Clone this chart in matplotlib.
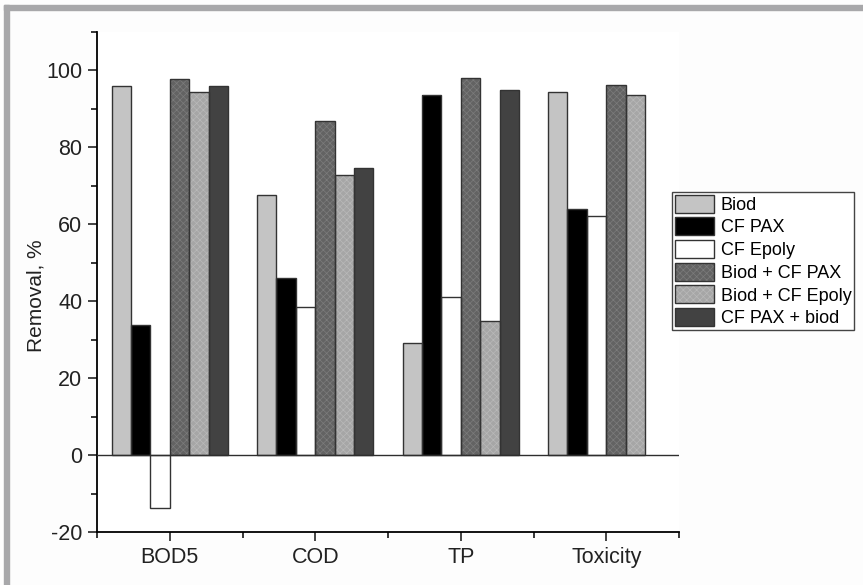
import numpy as np
import matplotlib
matplotlib.use("Agg")
import matplotlib.pyplot as plt
from matplotlib.patches import Rectangle
from matplotlib.ticker import MultipleLocator, FixedLocator

plt.rcParams['font.family'] = ['Liberation Sans', 'DejaVu Sans']
plt.rcParams['hatch.linewidth'] = 0.5
plt.rcParams['axes.unicode_minus'] = False

categories = ["BOD5", "COD", "TP", "Toxicity"]
series = ["Biod", "CF PAX", "CF Epoly", "Biod + CF PAX", "Biod + CF Epoly", "CF PAX + biod"]

biod = [96.0, 67.5, 29.1, 94.4]
cf_pax = [33.7, 46.0, 93.5, 64.0]
cf_epoly = [-13.8, 38.5, 41.2, 62.2]
biod_cf_pax = [97.7, 86.8, 98.1, 96.2]
biod_cf_epoly = [94.4, 72.7, 34.9, 93.5]
cf_pax_biod = [95.9, 74.6, 94.8, np.nan]

values = [biod, cf_pax, cf_epoly, biod_cf_pax, biod_cf_epoly, cf_pax_biod]
faces = ["#c4c4c4", "#000000", "#ffffff", "#636363", "#a6a6a6", "#424242"]
hatches = [None, None, None, "xxxxx", "xxxxx", None]
hatch_cols = ["#c4c4c4", "#000000", "#ffffff", "#7c7c7c", "#b9b9b9", "#424242"]

fig = plt.figure(figsize=(8.63, 5.85), dpi=100)
fig.patch.set_facecolor("#fdfdfd")

# grey frame of the original figure
fig.patches.append(Rectangle((4 / 863, 0), 5 / 863, 1 - 5 / 585, transform=fig.transFigure,
                             color="#a8a8aa", zorder=0))
fig.patches.append(Rectangle((4 / 863, 1 - 10 / 585), 1, 5 / 585, transform=fig.transFigure,
                             color="#a8a8aa", zorder=0))

ax = fig.add_axes([97 / 863, 53 / 585, 582 / 863, 500 / 585])
ax.set_facecolor("white")

x = np.arange(1, len(categories) + 1)
w = 0.8 / len(series)
handles = []
for i, (vals, fc, h, hc) in enumerate(zip(values, faces, hatches, hatch_cols)):
    pos = x + (i - 2.5) * w
    b1 = ax.bar(pos, vals, w, color=fc, edgecolor=hc, hatch=h, linewidth=0, zorder=2)
    b2 = ax.bar(pos, vals, w, fill=False, edgecolor="#333333", linewidth=1.0, zorder=3)
    handles.append((b1, b2))

ax.set_xlim(0.5, 4.5)
ax.set_ylim(-20, 110)
ax.set_xticks(x)
ax.set_xticklabels(categories)
ax.xaxis.set_minor_locator(FixedLocator([0.5, 1.5, 2.5, 3.5, 4.5]))
ax.yaxis.set_major_locator(FixedLocator([-20, 0, 20, 40, 60, 80, 100]))
ax.yaxis.set_minor_locator(MultipleLocator(10))
ax.axhline(0, color="#2e2e2e", lw=1.0, zorder=4)

for s in ["top", "right"]:
    ax.spines[s].set_visible(False)
for s in ["left", "bottom"]:
    ax.spines[s].set_linewidth(1.3)
ax.tick_params(which="major", length=6.5, width=1.1, labelsize=15.5, colors="#111111",
               labelcolor="#222222", pad=4)
ax.tick_params(which="minor", length=4, width=1.1)
ax.set_ylabel("Removal, %", fontsize=15, color="#222222")
ax.yaxis.set_label_coords(-0.088, 0.472)

fig.legend(handles, series, loc="upper left", bbox_to_anchor=(672 / 863, 1 - 192 / 585),
           fontsize=13, frameon=True, fancybox=False, edgecolor="#444444", framealpha=1,
           handlelength=2.2, handleheight=1.15, handletextpad=0.35, labelspacing=0.2,
           borderpad=0.15, borderaxespad=0)

fig.savefig("out.png", dpi=100, facecolor=fig.get_facecolor())
